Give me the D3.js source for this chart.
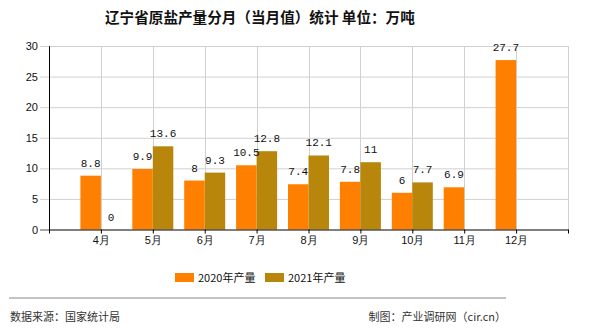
<!DOCTYPE html>
<html><head><meta charset="utf-8">
<script src="https://cdn.jsdelivr.net/npm/d3@7/dist/d3.min.js"></script>
<style>
body{margin:0;background:#fff;}
svg{display:block;font-family:"Noto Sans CJK SC","Noto Sans",sans-serif;}
</style></head>
<body><svg id="c" width="590" height="330"></svg>
<script>
const categories = ["", "4月","5月","6月","7月","8月","9月","10月","11月","12月", " "];
const months = ["4月","5月","6月","7月","8月","9月","10月","11月","12月"];
const values2020 = [8.8, 9.9, 8, 10.5, 7.4, 7.8, 6, 6.9, 27.7];
const values2021 = [0, 13.6, 9.3, 12.8, 12.1, 11, 7.7, null, null];
const seriesNames = ["2020年产量", "2021年产量"];
const colors = ["#FF8000", "#B8860B"];
const yTicks = [0,5,10,15,20,25,30];

const svg = d3.select("#c");
const L = 49, R = 568, T = 46, B = 229.5;
const x = d3.scalePoint().domain(categories).range([L, R]).padding(0);
const y = d3.scaleLinear().domain([0,30]).range([B, T]);
const bw = 20.5;

// title
svg.append("text").attr("x", 105).attr("y", 23).attr("font-size", 14.6).attr("font-weight","bold")
  .attr("fill","#111").text("辽宁省原盐产量分月（当月值）统计 单位：万吨");

// grid
const g = svg.append("g");
g.selectAll(".hg").data(yTicks.slice(1)).join("line")
  .attr("x1", L).attr("x2", R).attr("y1", d=>y(d)+0.5).attr("y2", d=>y(d)+0.5)
  .attr("stroke","#d0d0d0").attr("stroke-width",1);
g.selectAll(".vg").data(categories.slice(1)).join("line")
  .attr("x1", d=>Math.round(x(d))+0.5).attr("x2", d=>Math.round(x(d))+0.5).attr("y1", T).attr("y2", B)
  .attr("stroke","#d0d0d0").attr("stroke-width",1);

// bars
const data = months.map((m,i)=>({m, a: values2020[i], b: values2021[i]}));
svg.selectAll(".b1").data(data).join("rect")
  .attr("x", d=>x(d.m)-bw).attr("width", bw).attr("y", d=>y(d.a)).attr("height", d=>B-y(d.a))
  .attr("fill", colors[0]);
svg.selectAll(".b2").data(data.filter(d=>d.b!==null)).join("rect")
  .attr("x", d=>x(d.m)).attr("width", bw).attr("y", d=>y(d.b)).attr("height", d=>B-y(d.b))
  .attr("fill", colors[1]);

// value labels
const lf = "'Liberation Mono','DejaVu Sans Mono',monospace";
svg.selectAll(".l1").data(data).join("text")
  .attr("x", d=>x(d.m)-bw/2).attr("y", d=>y(d.a)-9).attr("text-anchor","middle")
  .attr("font-family", lf).attr("font-size", 11).attr("fill","#111").text(d=>d.a);
svg.selectAll(".l2").data(data.filter(d=>d.b!==null)).join("text")
  .attr("x", d=>x(d.m)+bw/2).attr("y", d=>y(d.b)-9).attr("text-anchor","middle")
  .attr("font-family", lf).attr("font-size", 11).attr("fill","#111").text(d=>d.b);

// axes
const ya = svg.append("g").attr("transform", `translate(${L},0)`)
  .call(d3.axisLeft(y).tickValues(yTicks).tickSize(9).tickPadding(2));
ya.select(".domain").attr("stroke","#000");
ya.selectAll(".tick line").attr("stroke","#d0d0d0");
ya.selectAll("text").attr("font-size",11).attr("fill","#111").attr("font-family","'Liberation Sans',sans-serif");

const xa = svg.append("g").attr("transform", `translate(0,${B})`)
  .call(d3.axisBottom(x).tickSize(4).tickPadding(3).tickSizeOuter(0));
xa.select(".domain").attr("stroke","#000").attr("stroke-width",1.2);
xa.selectAll(".tick line").attr("stroke","#000");
xa.selectAll("text").attr("font-size",11).attr("fill","#111");

// legend
const lg = svg.append("g");
const lx = [175, 265];
seriesNames.forEach((s,i)=>{
  lg.append("rect").attr("x", lx[i]).attr("y", 273).attr("width",19).attr("height",9).attr("fill",colors[i]);
  lg.append("text").attr("x", lx[i]+23).attr("y", 282).attr("font-size",11).attr("fill","#111").text(s);
});

// footer
svg.append("line").attr("x1",9).attr("x2",506).attr("y1",298).attr("y2",298).attr("stroke","#888").attr("stroke-width",1.2);
svg.append("text").attr("x",10).attr("y",321).attr("font-size",11).attr("fill","#333").text("数据来源：国家统计局");
svg.append("text").attr("x",506).attr("y",321).attr("text-anchor","end").attr("font-size",11).attr("fill","#333").text("制图：产业调研网（cir.cn）");
</script></body></html>
